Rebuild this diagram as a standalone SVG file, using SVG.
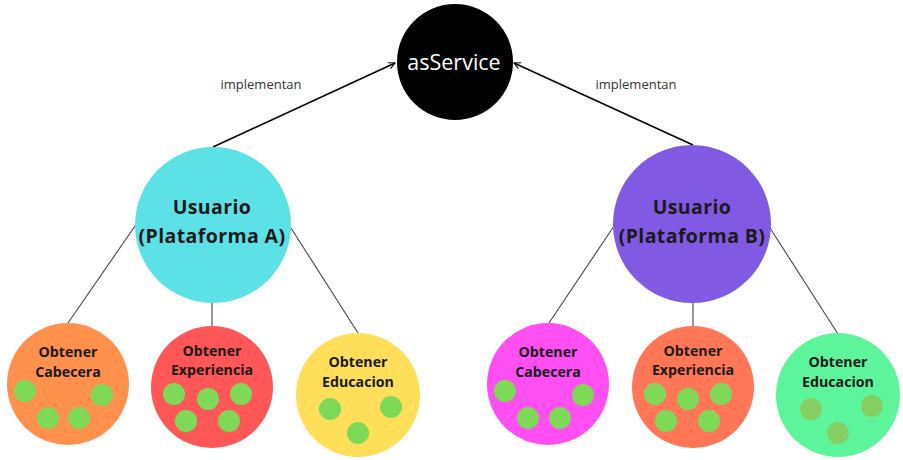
<svg xmlns="http://www.w3.org/2000/svg" width="903" height="460" viewBox="0 0 903 460">
<defs>
<marker id="arr" viewBox="0 0 10 10" refX="9" refY="5" markerWidth="8" markerHeight="8" orient="auto" markerUnits="userSpaceOnUse">
<path d="M1,1 L9,5 L1,9" fill="none" stroke="#000" stroke-width="1.3"/>
</marker>
<style>
.edge{stroke:#000;stroke-width:1.6;fill:none}
.link{stroke:#444;stroke-width:1.1;fill:none}
.lbl{font-family:"Open Sans","DejaVu Sans",sans-serif;font-size:13px;fill:#333}
.big{font-family:"Open Sans","DejaVu Sans",sans-serif;font-weight:bold;font-size:19.5px;letter-spacing:0.4px;fill:#1a1a1a;text-anchor:middle}
.small{font-family:"Open Sans","DejaVu Sans",sans-serif;font-weight:bold;font-size:14.2px;fill:#1a1a1a;text-anchor:middle}
.dot{fill:#7ed957}
.dot2{fill:#86cf62}
</style>
</defs>
<rect width="903" height="460" fill="#ffffff"/>
<g id="connectors">
<line class="edge" x1="213" y1="147" x2="395" y2="63" marker-end="url(#arr)"/>
<line class="edge" x1="693" y1="145" x2="514" y2="63" marker-end="url(#arr)"/>
<text class="lbl" x="261" y="89" text-anchor="middle">implementan</text>
<text class="lbl" x="636" y="89" text-anchor="middle">implementan</text>
<line class="link" x1="135" y1="226" x2="68" y2="323"/>
<line class="link" x1="212" y1="303" x2="212" y2="326"/>
<line class="link" x1="291" y1="228" x2="358" y2="333"/>
<line class="link" x1="614" y1="226" x2="549" y2="323"/>
<line class="link" x1="693" y1="302" x2="693" y2="326"/>
<line class="link" x1="770" y1="228" x2="838" y2="334"/>
</g>
<g id="asService">
<circle cx="455" cy="62" r="58" fill="#000"/>
<text x="454" y="70" text-anchor="middle" font-family="Open Sans, DejaVu Sans, sans-serif" font-size="21.5" fill="#fff">asService</text>
</g>
<g id="usuarioA">
<circle cx="213" cy="225" r="78" fill="#5ce1e6"/>
<text class="big" x="212" y="214">Usuario</text>
<text class="big" x="212" y="243">(Plataforma A)</text>
</g>
<g id="usuarioB">
<circle cx="692" cy="224" r="79" fill="#8259e3"/>
<text class="big" x="692" y="214">Usuario</text>
<text class="big" x="692" y="243">(Plataforma B)</text>
</g>
<g id="cabeceraA">
<circle cx="68" cy="384" r="61" fill="#ff914d"/>
<text class="small" x="68" y="357">Obtener</text>
<text class="small" x="68" y="377">Cabecera</text>
<circle class="dot" cx="25" cy="391" r="11"/>
<circle class="dot" cx="102" cy="395" r="11"/>
<circle class="dot" cx="48" cy="418" r="11"/>
<circle class="dot" cx="79" cy="418" r="11"/>
</g>
<g id="experienciaA">
<circle cx="212" cy="387" r="61" fill="#ff5757"/>
<text class="small" x="212" y="356">Obtener</text>
<text class="small" x="212" y="375">Experiencia</text>
<circle class="dot" cx="174" cy="394" r="11"/>
<circle class="dot" cx="208" cy="399" r="11"/>
<circle class="dot" cx="241" cy="394" r="11"/>
<circle class="dot" cx="186" cy="421" r="11"/>
<circle class="dot" cx="229" cy="421" r="11"/>
</g>
<g id="educacionA">
<circle cx="358" cy="395" r="62" fill="#ffde59"/>
<text class="small" x="358" y="367">Obtener</text>
<text class="small" x="358" y="387">Educacion</text>
<circle class="dot" cx="330" cy="409" r="11"/>
<circle class="dot" cx="391" cy="407" r="11"/>
<circle class="dot" cx="358" cy="433" r="11"/>
</g>
<g id="cabeceraB">
<circle cx="548" cy="384" r="61" fill="#ff4ff3"/>
<text class="small" x="548" y="357">Obtener</text>
<text class="small" x="548" y="377">Cabecera</text>
<circle class="dot" cx="505" cy="391" r="11"/>
<circle class="dot" cx="583" cy="395" r="11"/>
<circle class="dot" cx="528" cy="418" r="11"/>
<circle class="dot" cx="560" cy="418" r="11"/>
</g>
<g id="experienciaB">
<circle cx="693" cy="387" r="61" fill="#ff7757"/>
<text class="small" x="693" y="356">Obtener</text>
<text class="small" x="693" y="375">Experiencia</text>
<circle class="dot" cx="655" cy="394" r="11"/>
<circle class="dot" cx="688" cy="399" r="11"/>
<circle class="dot" cx="721" cy="394" r="11"/>
<circle class="dot" cx="666" cy="421" r="11"/>
<circle class="dot" cx="709" cy="421" r="11"/>
</g>
<g id="educacionB">
<circle cx="838" cy="395" r="62" fill="#5cf59b"/>
<text class="small" x="838" y="367">Obtener</text>
<text class="small" x="838" y="387">Educacion</text>
<circle class="dot2" cx="811" cy="409" r="11"/>
<circle class="dot2" cx="872" cy="406" r="11"/>
<circle class="dot2" cx="838" cy="433" r="11"/>
</g>
</svg>
